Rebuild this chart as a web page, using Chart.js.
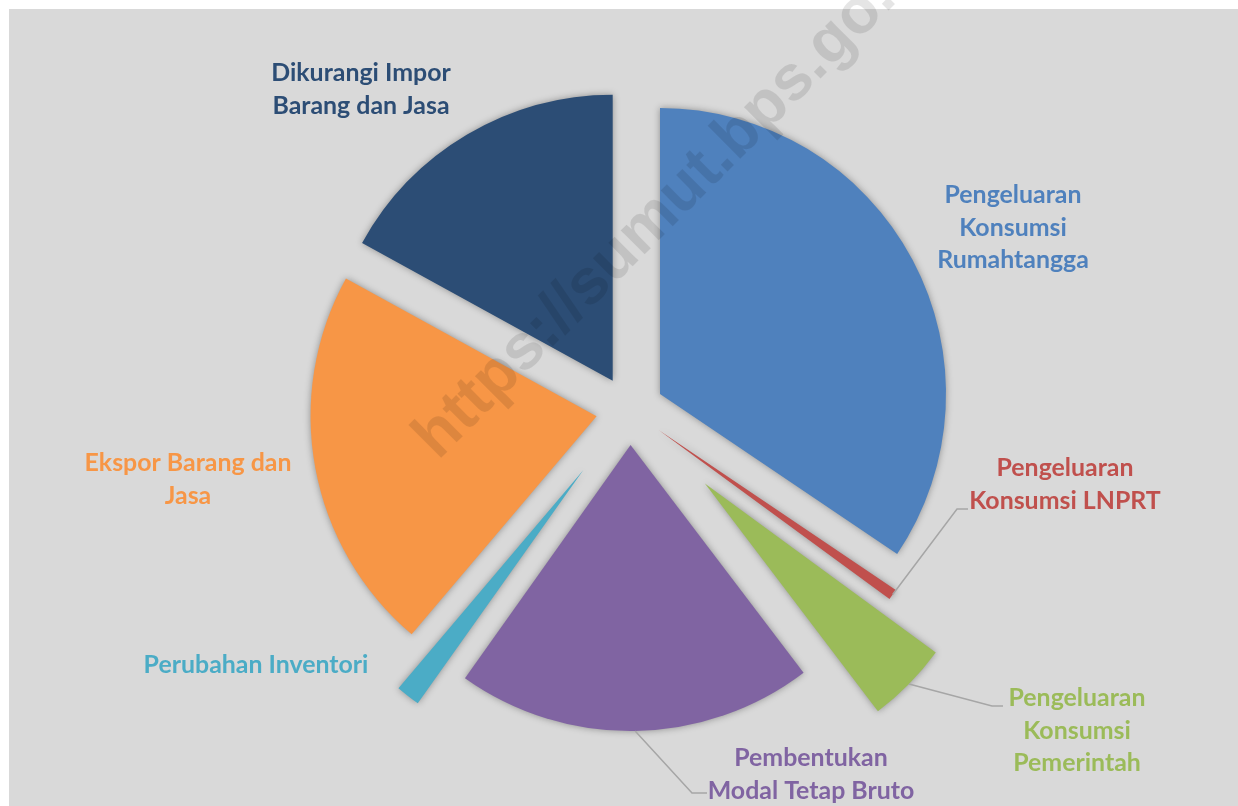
<!DOCTYPE html>
<html>
<head>
<meta charset="utf-8">
<script src="https://cdn.jsdelivr.net/npm/chart.js@4.4.1/dist/chart.umd.min.js"></script>
<style>
  body { margin: 0; background: #fff; }
  canvas { display: block; }
</style>
</head>
<body>
<canvas id="pie" width="1238" height="806"></canvas>
<script>
// PDRB menurut pengeluaran, share of each component (%)
const categories = [
    'Pengeluaran Konsumsi Rumahtangga',
    'Pengeluaran Konsumsi LNPRT',
    'Pengeluaran Konsumsi Pemerintah',
    'Pembentukan Modal Tetap Bruto',
    'Perubahan Inventori',
    'Ekspor Barang dan Jasa',
    'Dikurangi Impor Barang dan Jasa'
];
const shares = [34.44, 0.61, 4.61, 20.17, 1.36, 21.81, 17.0];

const colors = ['#4f81bd', '#c0504d', '#9bbb59', '#8064a2', '#4bacc6', '#f79646', '#2c4d75'];

// how far each slice is pulled out of the pie, px
const explode = [34, 35, 105, 35, 76, 34, 34];

// label text split in lines, centre x and first baseline
const labelLines = [
    ['Pengeluaran', 'Konsumsi', 'Rumahtangga'],
    ['Pengeluaran', 'Konsumsi LNPRT'],
    ['Pengeluaran', 'Konsumsi', 'Pemerintah'],
    ['Pembentukan', 'Modal Tetap Bruto'],
    ['Perubahan Inventori'],
    ['Ekspor Barang dan', 'Jasa'],
    ['Dikurangi Impor', 'Barang dan Jasa']
];
const labelPos = [[1013, 203], [1065, 476], [1077, 706], [811, 766], [256, 673], [188, 471], [361, 81]];
// leader lines: [elbow x, end x, y] or null
const leaders = [null, [957, 968, 509], [992, 1003, 706], [692, 707, 793], null, null, null];

const lineGap = 32.5;

// pick a label font size so "Pengeluaran" is about as wide as in the source
function labelFont(ctx) {
    ctx.font = 'bold 100px Lato';
    const w = ctx.measureText('Pengeluaran').width;
    return 'bold ' + (100 * 137 / w).toFixed(1) + 'px Lato';
}

const background = {
    id: 'background',
    beforeDraw(chart) {
        const ctx = chart.ctx;
        ctx.save();
        ctx.fillStyle = '#ffffff';
        ctx.fillRect(0, 0, chart.width, chart.height);
        ctx.fillStyle = '#d9d9d9';
        ctx.fillRect(9, 9, chart.width - 9, chart.height - 9);
        ctx.restore();
    }
};

// draw the arcs pulled out along their middle angle, with a soft shadow
const exploded = {
    id: 'exploded',
    beforeDatasetDraw(chart, args) {
        const ctx = chart.ctx;
        ctx.save();
        ctx.shadowColor = 'rgba(0, 0, 0, 0.35)';
        ctx.shadowBlur = 7;
        args.meta.data.forEach((arc, i) => {
            const mid = (arc.startAngle + arc.endAngle) / 2;
            ctx.save();
            ctx.translate(Math.cos(mid) * explode[i], Math.sin(mid) * explode[i]);
            arc.draw(ctx);
            ctx.restore();
        });
        ctx.restore();
        return false;
    }
};

const labels = {
    id: 'labels',
    afterDatasetsDraw(chart) {
        const ctx = chart.ctx;
        const arcs = chart.getDatasetMeta(0).data;
        ctx.save();

        ctx.strokeStyle = '#a6a6a6';
        ctx.lineWidth = 1.5;
        arcs.forEach((arc, i) => {
            if (!leaders[i]) return;
            const mid = (arc.startAngle + arc.endAngle) / 2;
            const r = arc.outerRadius + explode[i];
            ctx.beginPath();
            ctx.moveTo(arc.x + Math.cos(mid) * r, arc.y + Math.sin(mid) * r);
            ctx.lineTo(leaders[i][0], leaders[i][2]);
            ctx.lineTo(leaders[i][1], leaders[i][2]);
            ctx.stroke();
        });

        ctx.font = labelFont(ctx);
        ctx.textAlign = 'center';
        ctx.textBaseline = 'alphabetic';
        labelLines.forEach((lines, i) => {
            ctx.fillStyle = colors[i];
            lines.forEach((t, k) => {
                ctx.fillText(t, labelPos[i][0], labelPos[i][1] + k * lineGap);
            });
        });
        ctx.restore();
    }
};

const watermark = {
    id: 'watermark',
    afterDraw(chart) {
        const ctx = chart.ctx;
        ctx.save();
        ctx.translate(438, 461);
        ctx.rotate(-Math.PI / 4);
        ctx.font = 'bold 64px "Liberation Sans"';
        ctx.fillStyle = 'rgba(0, 0, 0, 0.1)';
        ctx.fillText('https://sumut.bps.go.id', 0, 0);
        ctx.restore();
    }
};

new Chart(document.getElementById('pie'), {
    type: 'pie',
    data: {
        labels: categories,
        datasets: [{
            data: shares,
            backgroundColor: colors,
            borderWidth: 0
        }]
    },
    options: {
        responsive: false,
        animation: false,
        events: [],
        radius: 286,
        layout: { padding: { left: 22, top: 14, right: 0, bottom: 0 } },
        plugins: {
            legend: { display: false },
            tooltip: { enabled: false }
        }
    },
    plugins: [background, exploded, labels, watermark]
});
</script>
</body>
</html>
